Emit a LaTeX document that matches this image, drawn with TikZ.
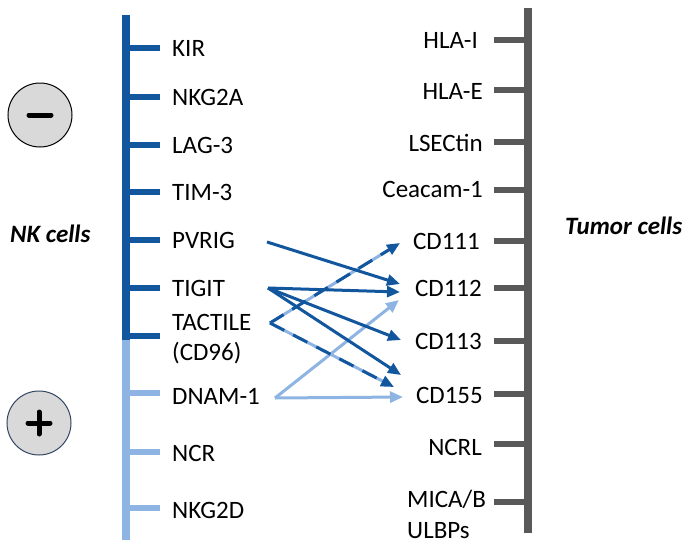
\documentclass[tikz,border=0pt]{standalone}
\usepackage{fontspec}
\setmainfont{Carlito}
\usetikzlibrary{arrows.meta}
\definecolor{dkblue}{RGB}{18,87,158}
\definecolor{ltblue}{RGB}{141,180,226}
\definecolor{bargray}{RGB}{89,89,89}
\definecolor{circfill}{RGB}{217,217,217}
\definecolor{circblue}{RGB}{50,70,100}
\begin{document}
\begin{tikzpicture}[x=1pt,y=-1pt,
  lbl/.style={font=\fontsize{25}{30}\selectfont, inner sep=0pt, text=black},
  ttl/.style={font=\fontsize{25}{30}\selectfont\bfseries\itshape, inner sep=0pt},
  bar/.style={line width=8pt},
  tick/.style={line width=6.5pt},
  arr/.style={line width=3pt, -{Triangle[length=13pt,width=11pt]}},
  dasharr/.style={line width=3pt, dash pattern=on 16pt off 10pt, -{Triangle[length=13pt,width=11pt]}},
  lightline/.style={line width=3pt, ltblue},
  signcircle/.style={circle, minimum size=64pt, inner sep=0pt, fill=circfill, line width=1pt},
  signbar/.style={line width=5pt, line cap=round}
]
\useasboundingbox (0,0) rectangle (691,549);

% ---------- bars ----------
\coordinate (Ltop) at (126,15);
\coordinate (Lmid) at (126,340);
\coordinate (Lbot) at (126,540);
\draw[bar, dkblue] (Ltop) -- (Lmid);
\draw[bar, ltblue] (Lmid) -- (Lbot);
\coordinate (Rtop) at (528,8);
\coordinate (Rbot) at (528,533);
\draw[bar, bargray] (Rtop) -- (Rbot);

% ---------- left ticks ----------
\foreach \y/\c in {48/dkblue,97/dkblue,145/dkblue,192/dkblue,240/dkblue,288/dkblue,336/dkblue,393/ltblue,452/ltblue,508/ltblue}{
  \draw[tick, \c] (126,\y) -- (160,\y);
}
% ---------- right ticks ----------
\foreach \y in {40,90,142,190,241,288,341,394,444,502}{
  \draw[tick, bargray] (494,\y) -- (528,\y);
}

% ---------- left labels ----------
\node[lbl, anchor=base west] (kir)   at (172,56)  {KIR};
\node[lbl, anchor=base west] (nkg2a) at (172,105) {NKG2A};
\node[lbl, anchor=base west] (lag3)  at (172,153) {LAG-3};
\node[lbl, anchor=base west] (tim3)  at (172,200) {TIM-3};
\node[lbl, anchor=base west] (pvrig) at (172,248) {PVRIG};
\node[lbl, anchor=base west] (tigit) at (172,296) {TIGIT};
\node[lbl, anchor=base west] (tact)  at (172,330) {TACTILE};
\node[lbl, anchor=base west] (cd96)  at (172,360) {(CD96)};
\node[lbl, anchor=base west] (dnam)  at (172,404) {DNAM-1};
\node[lbl, anchor=base west] (ncr)   at (172,461) {NCR};
\node[lbl, anchor=base west] (nkg2d) at (172,518) {NKG2D};

% ---------- right labels ----------
\node[lbl, anchor=base east] (hlai)  at (478,48)  {HLA-I};
\node[lbl, anchor=base east] (hlae)  at (483,99)  {HLA-E};
\node[lbl, anchor=base east] (lsec)  at (483,151) {LSECtin};
\node[lbl, anchor=base east] (cea)   at (483,197) {Ceacam-1};
\node[lbl, anchor=base east] (cd111) at (480,249) {CD111};
\node[lbl, anchor=base east] (cd112) at (482,296) {CD112};
\node[lbl, anchor=base east] (cd113) at (482,349) {CD113};
\node[lbl, anchor=base east] (cd155) at (483,403) {CD155};
\node[lbl, anchor=base east] (ncrl)  at (482,455) {NCRL};
\node[lbl, anchor=base west] (mica)  at (407,507) {MICA/B};
\node[lbl, anchor=base west] (ulbp)  at (407,538) {ULBPs};

% ---------- titles ----------
\node[ttl, anchor=base west] (nk)    at (10,242)  {NK cells};
\node[ttl, anchor=base west] (tumor) at (565,234) {Tumor cells};

% ---------- sign circles ----------
\node[signcircle, draw=black] (minus) at (40,115) {};
\draw[signbar] ([xshift=-11pt]minus.center) -- ([xshift=11pt]minus.center);
\node[signcircle, draw=circblue] (plus) at (39,423) {};
\draw[signbar] ([xshift=-11pt]plus.center) -- ([xshift=11pt]plus.center);
\draw[signbar] ([yshift=-11pt]plus.center) -- ([yshift=11pt]plus.center);

% ---------- arrow anchor points ----------
\coordinate (pvS)   at (267,242);
\coordinate (tgS)   at (268,288);
\coordinate (taS)   at (270,323);
\coordinate (dnS)   at (275,398);
\coordinate (e111)  at (400,243);
\coordinate (e112a) at (400,284);
\coordinate (e112b) at (400,292);
\coordinate (e112c) at (399,300);
\coordinate (e113)  at (401,340);
\coordinate (e155a) at (401,375);
\coordinate (e155b) at (394,387);
\coordinate (e155c) at (403,397);

% ---------- light blue (DNAM-1) ----------
\draw[arr, ltblue] (dnS) -- (e112c);
\draw[arr, ltblue] (dnS) -- (e155c);

% ---------- TACTILE dashed (two-tone) ----------
\draw[lightline, shorten >=6pt] (taS) -- (e111);
\draw[dasharr, dkblue] (taS) -- (e111);
\draw[lightline, shorten >=6pt] (taS) -- (e155b);
\draw[dasharr, dkblue] (taS) -- (e155b);

% ---------- dark blue ----------
\draw[arr, dkblue] (pvS) -- (e112a);
\draw[arr, dkblue] (tgS) -- (e112b);
\draw[arr, dkblue] (tgS) -- (e113);
\draw[arr, dkblue] (tgS) -- (e155a);

\end{tikzpicture}
\end{document}
